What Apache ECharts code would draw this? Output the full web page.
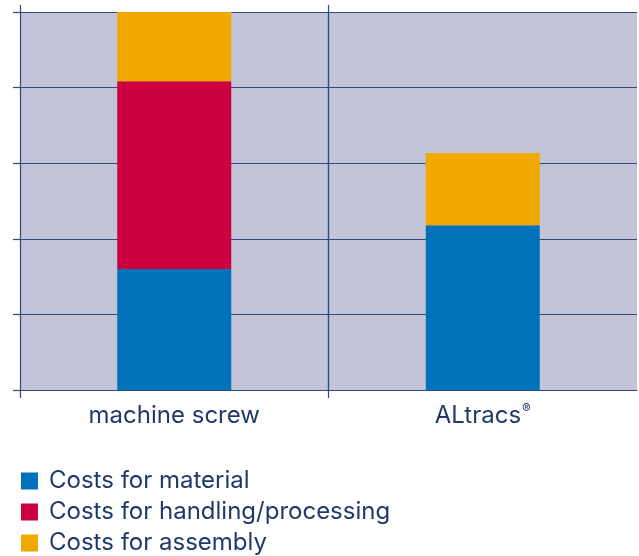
<!DOCTYPE html>
<html lang="en">
<head>
    <meta charset="UTF-8">
    <title>Costs comparison</title>
    <script src="https://cdn.jsdelivr.net/npm/echarts@6/dist/echarts.min.js"></script>
    <style>
        html, body { margin: 0; padding: 0; background: #fff; }
    </style>
</head>
<body>
    <div id="main" style="width:639px; height:556px;"></div>

    <script>
        var chart = echarts.init(document.getElementById('main'));

        // categories and stacked cost shares (0..100)
        var products = ['machine screw', 'ALtracs'];
        var material = [32, 43.6];
        var handling = [49.7, 0];
        var assembly = [18.3, 19.1];
        var seriesNames = ['Costs for material', 'Costs for handling/processing', 'Costs for assembly'];

        var navy = '#2d4a7c';
        var textNavy = '#1f3a6a';
        var font = 'Inter, "Liberation Sans", sans-serif';

        var option = {
            animation: false,
            color: ['#0072b9', '#cc0040', '#f0a900'],
            grid: [
                // main plot
                { left: 20, right: 2, top: 12, bottom: 166, show: true, backgroundColor: '#c3c4d7', borderWidth: 0 },
                // only used to draw the long vertical lines that stick out of the plot
                { left: 20, right: 2, top: 5, bottom: 158, show: false }
            ],
            xAxis: [
                {
                    type: 'category',
                    gridIndex: 0,
                    data: products,
                    axisLine: { lineStyle: { color: navy, width: 1 } },
                    axisTick: { show: false },
                    splitLine: { show: true, showMinLine: false, showMaxLine: false, lineStyle: { color: navy, width: 1.2 } },
                    axisLabel: {
                        margin: 13,
                        fontFamily: font,
                        fontSize: 24,
                        color: textNavy,
                        formatter: function (v) {
                            return v === 'ALtracs' ? '{t|ALtracs}{sup|®}' : '{t|' + v + '}';
                        },
                        rich: {
                            t: { fontFamily: font, fontSize: 24, color: textNavy, lineHeight: 26 },
                            sup: { fontFamily: font, fontSize: 13, color: textNavy, verticalAlign: 'top', lineHeight: 26, padding: [0, 0, 10, 1] }
                        }
                    }
                },
                {
                    type: 'category',
                    gridIndex: 1,
                    data: products,
                    axisLine: { show: false },
                    axisTick: { show: false },
                    axisLabel: { show: false },
                    splitLine: { show: true, showMinLine: true, showMaxLine: false, lineStyle: { color: navy, width: 1.2 } }
                }
            ],
            yAxis: [
                {
                    type: 'value',
                    gridIndex: 0,
                    min: 0,
                    max: 100,
                    interval: 20,
                    axisLine: { show: false },
                    axisTick: { show: true, length: 7, lineStyle: { color: navy, width: 1.2 } },
                    axisLabel: { show: false },
                    splitLine: { show: true, lineStyle: { color: navy, width: 1.2 } }
                },
                {
                    type: 'value',
                    gridIndex: 1,
                    show: false
                }
            ],
            legend: {
                orient: 'vertical',
                left: 21,
                top: 469,
                height: 120,
                padding: 0,
                icon: 'rect',
                itemWidth: 17,
                itemHeight: 17,
                itemGap: 7,
                selectedMode: false,
                data: seriesNames,
                textStyle: {
                    fontFamily: font,
                    fontSize: 24,
                    color: textNavy,
                    padding: [0, 0, 0, 6]
                }
            },
            series: [
                { name: seriesNames[0], type: 'bar', stack: 'cost', barWidth: 114, data: material },
                { name: seriesNames[1], type: 'bar', stack: 'cost', barWidth: 114, data: handling },
                { name: seriesNames[2], type: 'bar', stack: 'cost', barWidth: 114, data: assembly }
            ]
        };

        chart.setOption(option);
    </script>
</body>
</html>
